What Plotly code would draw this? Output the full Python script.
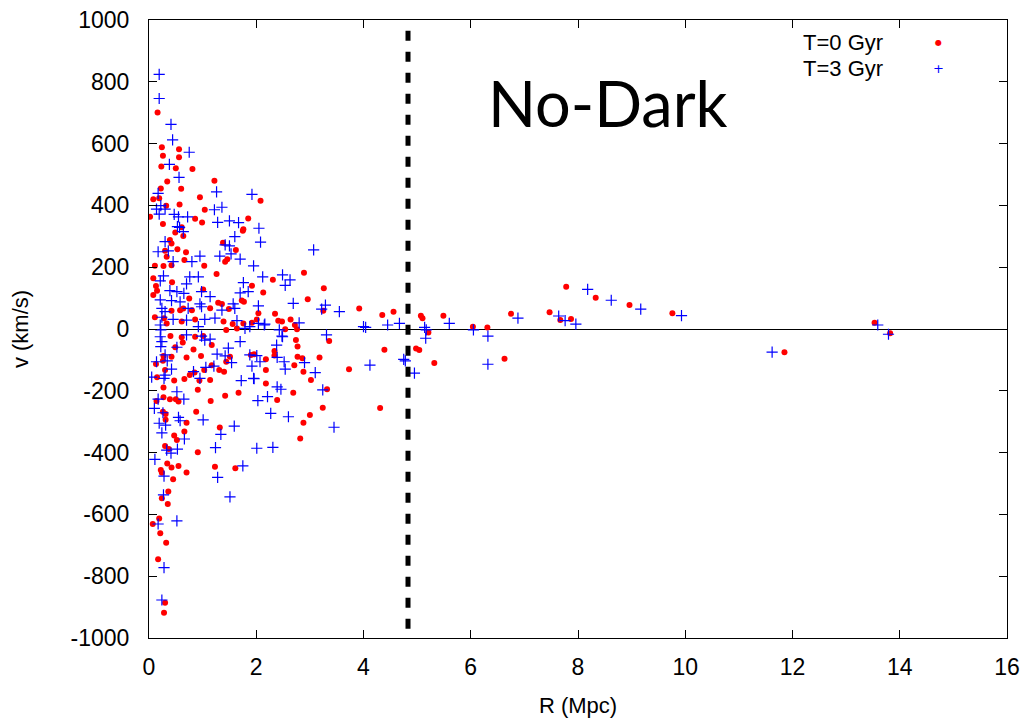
import plotly.graph_objects as go

# ---- data ----
t0_points = [
    (0.16,701),(0.24,588),(0.56,582),(0.26,561),(0.56,556),(0.23,526),(0.50,520),(0.81,518),(0.34,477),(1.22,480),
    (0.22,455),(0.60,454),(0.08,420),(0.19,423),(0.95,426),(0.32,399),(0.57,403),(1.04,386),(0.02,363),(0.26,340),
    (0.86,357),(0.99,345),(1.85,358),(0.61,329),(1.76,323),
    (0.49,312),(0.39,288),(0.42,277),(0.64,301),(1.38,279),(1.75,318),(1.62,256),(0.53,258),(0.30,253),(0.33,234),
    (0.69,248),(0.66,223),(0.11,205),(0.27,204),(0.42,206),(1.03,205),(1.46,226),(1.42,218),(1.26,178),(0.08,164),
    (0.43,151),(0.13,139),(0.15,124),(0.08,110),(1.01,128),(0.75,99),(0.80,61),(1.29,85),(1.36,81),(1.73,92),
    (1.77,88),(0.58,61),(0.64,66),(0.42,59),(1.14,67),(1.49,65),(0.11,38),(0.28,35),(0.33,18),(0.61,24),
    (0.86,31),(1.39,24),(1.56,16),(1.76,18),(1.44,-3),(1.64,2),(0.40,-23),(0.61,-27),(0.63,-44),(0.86,-25),
    (1.01,-23),(1.17,-52),(0.83,-66),(0.49,-59),(0.27,-87),(0.42,-90),(0.70,-92),(0.97,-87),(1.51,-90),
    (2.08,415),(2.31,159),(2.89,182),(3.26,132),(2.13,118),(1.92,140),(2.96,96),(3.25,59),(2.35,49),(2.48,24),
    (2.64,31),(2.72,13),(2.76,-1),(2.01,31),(2.04,51),(1.92,20),(2.54,-1),(3.92,66),(2.41,27),
    (3.36,-39),(2.74,-36),(2.77,-57),(2.34,-71),(2.34,-86),(1.90,-84),(1.96,-82),(2.18,-98),(2.77,-90),(2.86,-95),
    (3.18,-92),(2.71,-117),(2.18,-133),(2.88,-138),(3.73,-130),(3.02,-165),(2.18,-176),(2.69,-206),(3.32,-195),
    (2.39,-230),(3.24,-255),(3.00,-278),(2.88,-303),(2.82,-354),
    (0.13,-113),(0.26,-103),(0.30,-133),(0.15,-156),(0.47,-167),(0.27,-189),(0.66,-162),(0.76,-149),(0.85,-141),
    (0.94,-167),(1.03,-133),(1.14,-165),(1.17,-117),(1.31,-133),(1.40,-138),(1.44,-106),(0.91,-197),(0.27,-221),
    (0.14,-233),(0.39,-227),(0.50,-227),(0.55,-235),(1.15,-233),(1.42,-216),(1.67,-206),(0.26,-268),(0.31,-275),
    (0.31,-294),(0.88,-268),(0.70,-303),(1.32,-319),(0.66,-332),(0.47,-345),(0.52,-359),(0.30,-379),(0.37,-388),
    (0.91,-399),(0.34,-435),(0.42,-448),(0.55,-443),(0.22,-456),(0.24,-465),(0.70,-464),(0.45,-486),(1.23,-446),
    (1.61,-451),(0.36,-526),(0.24,-548),
    (0.35,-566),(0.19,-613),(0.07,-631),(0.21,-661),(0.32,-692),(0.17,-745),(0.30,-886),(0.28,-918),
    (4.35,45),(4.56,56),(5.07,43),(5.10,35),(5.49,43),(6.04,7),(6.31,5),(6.75,49),(7.47,54),(5.21,-11),
    (4.39,-67),(4.98,-63),(5.04,-68),(5.32,-110),(6.63,-96),(4.31,-256),
    (7.67,29),(7.87,32),(7.78,137),(8.33,101),(8.96,78),(9.76,51),(11.85,-75),(13.53,20),(13.82,-14),
]
t3_points = [
    (0.19,824),(0.19,746),(0.41,662),(0.44,612),(0.75,572),(0.38,533),(0.56,491),(1.26,444),(1.92,436),(0.17,439),
    (0.14,388),(0.22,399),(0.30,388),(0.19,372),(0.47,371),(0.55,363),(0.72,363),(1.22,386),(1.36,394),(1.28,345),
    (1.50,350),(1.67,344),(0.53,331),(0.57,329),
    (0.30,283),(0.17,250),(0.36,253),(0.64,315),(1.60,299),(1.42,272),(1.50,269),(1.32,236),(1.53,243),(0.95,236),
    (0.45,218),(0.80,218),(1.70,226),(1.95,204),(0.27,172),(0.21,156),(0.76,169),(0.92,169),(0.70,146),(1.76,150),
    (0.39,124),(0.52,121),(0.65,115),(0.98,121),(1.70,117),(1.85,121),(0.21,94),(0.42,92),(0.58,88),(0.95,81),
    (1.14,105),(1.57,81),(0.24,67),(0.30,56),(0.73,67),(0.98,72),(1.36,61),(1.60,67),(0.24,38),(0.45,31),
    (0.70,29),(1.04,31),(1.23,35),(1.64,27),(1.88,8),(1.79,2),(0.21,13),(0.22,-3),(0.21,-25),(0.24,-41),
    (0.22,-57),(0.92,8),(0.70,-19),(0.98,-23),(1.04,-36),(1.14,-33),(1.70,-41),(0.52,-59),(1.48,-62),(1.27,-81),
    (1.42,-87),(0.30,-84),(1.88,-84),
    (2.05,326),(2.08,281),(3.07,256),(2.49,175),(2.63,159),(2.54,141),(2.69,83),(3.22,64),(3.29,77),(3.55,56),
    (2.04,75),(2.15,13),(2.80,20),(2.48,-23),(2.12,169),(2.04,18),(2.16,16),(4.00,8),
    (2.43,-3),(2.49,-25),(3.31,-19),(2.38,-52),(2.01,-86),(2.07,-106),(1.92,-120),(2.39,-92),(2.52,-106),(2.54,-130),
    (2.90,-109),(3.10,-141),(1.96,-161),(2.39,-187),(2.46,-195),(3.24,-197),(2.21,-219),(2.03,-232),(2.27,-273),
    (2.60,-284),(3.45,-318),(2.01,-386),(2.31,-383),
    (0.14,-106),(0.34,-103),(0.42,-130),(0.05,-156),(0.30,-149),(0.28,-160),(0.83,-138),(0.95,-160),(1.21,-120),
    (1.06,-124),(1.54,-109),(1.72,-167),(1.95,-160),(0.52,-203),(0.17,-227),(0.65,-227),(0.10,-257),(0.26,-271),
    (0.55,-286),(0.58,-297),(0.19,-305),(0.31,-311),(1.01,-294),(1.59,-314),(0.24,-336),(1.34,-341),(0.66,-356),
    (0.33,-392),(0.41,-402),(0.53,-389),(1.24,-384),(0.11,-422),(1.75,-443),(0.28,-476),(1.28,-480),(0.27,-537),
    (1.51,-543),
    (0.17,-631),(0.52,-621),(0.28,-772),(0.24,-877),
    (4.04,5),(4.45,13),(4.67,18),(5.60,18),(6.05,-3),(6.88,35),(5.14,5),(5.17,-3),(5.16,-30),(4.75,-98),
    (4.78,-103),(4.95,-143),(6.32,-23),(6.32,-114),(4.12,-117),
    (7.64,42),(7.76,27),(7.96,16),(8.18,128),(8.62,93),(9.17,64),(9.93,43),(11.62,-75),(13.59,13),(13.79,-17),
]
r_t0 = [p[0] for p in t0_points]
v_t0 = [p[1] for p in t0_points]
r_t3 = [p[0] for p in t3_points]
v_t3 = [p[1] for p in t3_points]

series_names = ["T=0 Gyr", "T=3 Gyr"]
boundary_r = 4.83
x_ticks = [0, 2, 4, 6, 8, 10, 12, 14, 16]
y_ticks = [-1000, -800, -600, -400, -200, 0, 200, 400, 600, 800, 1000]
y_ticktext = ["-1000", "-800", "-600", "-400", "-200", "0", "200", "400", "600", "800", "1000"]
panel_label = "No-Dark"

FONT = "Liberation Sans, Arial, sans-serif"

fig = go.Figure()
fig.add_trace(go.Scatter(
    x=r_t0, y=v_t0, mode="markers", name=series_names[0], showlegend=False,
    marker=dict(symbol="circle", size=6, color="#ff0000", line=dict(width=0)),
))
fig.add_trace(go.Scatter(
    x=r_t3, y=v_t3, mode="markers", name=series_names[1], showlegend=False,
    marker=dict(symbol="cross-thin", size=8, color="#0000ff", line=dict(width=1.2, color="#0000ff")),
))

fig.add_shape(type="line", xref="x", yref="y", x0=boundary_r, x1=boundary_r, y0=-970, y1=1000,
              line=dict(color="black", width=5, dash="10px,11px"), layer="above")

axis_common = dict(
    showgrid=False, showline=True, linecolor="black", linewidth=1, mirror="ticks",
    ticks="inside", ticklen=8, tickwidth=1, tickcolor="black",
    ticklabeloverflow="allow",
    tickfont=dict(family=FONT, size=23, color="black"),
)
fig.update_layout(
    width=1030, height=723,
    margin=dict(l=141, r=31, t=12, b=93, autoexpand=False),
    paper_bgcolor="white", plot_bgcolor="white",
    font=dict(family=FONT, color="black"),
    xaxis=dict(range=[0, 16], tickvals=x_ticks, zeroline=False,
               title=dict(text="R (Mpc)", font=dict(family=FONT, size=22), standoff=19),
               ticklabelstandoff=8, **axis_common),
    yaxis=dict(range=[-1000, 1000], tickvals=y_ticks, ticktext=y_ticktext,
               zeroline=True, zerolinecolor="black", zerolinewidth=1.3,
               title=dict(text="v (km/s)", font=dict(family=FONT, size=22), standoff=43),
               ticklabelstandoff=14, **axis_common),
    showlegend=False,
)

# gnuplot-style key (text right-aligned, sample to the right)
fig.add_annotation(xref="paper", yref="paper", x=0.858, y=0.964, text=series_names[0],
                   showarrow=False, xanchor="right", yanchor="middle",
                   font=dict(family=FONT, size=22, color="black"))
fig.add_annotation(xref="paper", yref="paper", x=0.858, y=0.922, text=series_names[1],
                   showarrow=False, xanchor="right", yanchor="middle",
                   font=dict(family=FONT, size=22, color="black"))
fig.add_annotation(xref="paper", yref="paper", x=0.92, y=0.964, text="●",
                   showarrow=False, xanchor="center", yanchor="middle",
                   font=dict(family="DejaVu Sans", size=8, color="#ff0000"))
fig.add_annotation(xref="paper", yref="paper", x=0.92, y=0.922, text="+",
                   showarrow=False, xanchor="center", yanchor="middle",
                   font=dict(family="DejaVu Sans", size=13, color="#0000ff"))

fig.add_annotation(xref="paper", yref="paper", x=0.535, y=0.866, text=panel_label,
                   showarrow=False, xanchor="center", yanchor="middle",
                   font=dict(family="Lato, sans-serif", size=63, color="black"))

fig.write_html("out.html")
